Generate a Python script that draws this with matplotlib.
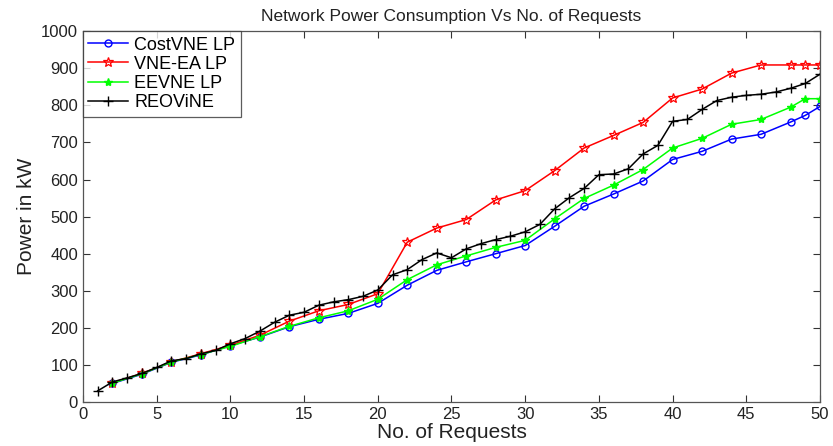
import matplotlib
matplotlib.use("Agg")
import matplotlib.pyplot as plt

plt.rcParams['font.family'] = ['Liberation Sans', 'DejaVu Sans']

x_even = [2, 4, 6, 8, 10, 12, 14, 16, 18, 20, 22, 24, 26, 28, 30, 32, 34, 36, 38, 40, 42, 44, 46, 48, 49, 50]
costvne = [50, 75, 107, 127, 152, 175, 203, 223, 239, 266, 315, 355, 378, 400, 422, 474, 528, 561, 596,
           654, 676, 709, 722, 755, 773, 797]
vneea = [52, 77, 108, 130, 153, 180, 218, 246, 263, 292, 431, 469, 492, 545, 570, 624, 685, 719, 754,
         820, 844, 887, 909, 909, 909, 909]
eevne = [51, 76, 108, 128, 150, 176, 204, 227, 246, 277, 330, 370, 394, 417, 436, 494, 549, 585, 627,
         685, 711, 749, 762, 795, 818, 818]
x_all = list(range(1, 51))
reovine = [30, 54, 65, 77, 93, 111, 117, 130, 139, 157, 171, 191, 215, 234, 242, 261, 270, 276, 285, 302,
           343, 357, 384, 402, 389, 413, 427, 438, 447, 459, 479, 521, 551, 576, 613, 615, 629, 669, 692, 757,
           762, 789, 813, 822, 827, 830, 836, 846, 859, 884]

x_ticks = [0, 5, 10, 15, 20, 25, 30, 35, 40, 45, 50]
y_ticks = [0, 100, 200, 300, 400, 500, 600, 700, 800, 900, 1000]

fig = plt.figure(figsize=(8.33, 4.46), dpi=100)
ax = fig.add_axes([0.0996, 0.0987, 0.8848, 0.8313])

ax.plot(x_even, costvne, color='#0000ff', lw=1.1, marker='o', ms=5, mfc='none', mew=1.0, label='CostVNE LP')
ax.plot(x_even, vneea, color='#ff0000', lw=1.1, marker='*', ms=7, mfc='none', mew=0.9, label='VNE-EA LP')
ax.plot(x_even, eevne, color='#00ff00', lw=1.1, marker='*', ms=6, mew=1.0, label='EEVNE LP')
ax.plot(x_all, reovine, color='#000000', lw=1.1, marker='+', ms=7, mew=1.0, label='REOViNE')

ax.set_xlim(0, 50)
ax.set_ylim(0, 1000)
ax.set_xticks(x_ticks)
ax.set_yticks(y_ticks)
ax.tick_params(direction='in', top=True, right=True, labelsize=12, length=5, colors='#333333',
               labelcolor='#222222')
for s in ax.spines.values():
    s.set_color('#555555')
    s.set_linewidth(0.9)

ax.set_title('Network Power Consumption Vs No. of Requests', fontsize=12.5, color='#222222', pad=7)
ax.set_xlabel('No. of Requests', fontsize=15, color='#222222', labelpad=1)
ax.set_ylabel('Power in kW', fontsize=15, color='#222222', labelpad=4)

leg = ax.legend(loc='upper left', fontsize=13, frameon=True, fancybox=False, borderaxespad=0,
                handlelength=2.2, handletextpad=0.35, borderpad=0.3, labelspacing=0.12)
leg.get_frame().set_edgecolor('#333333')
leg.get_frame().set_linewidth(0.9)

fig.savefig('out.png', dpi=100)
